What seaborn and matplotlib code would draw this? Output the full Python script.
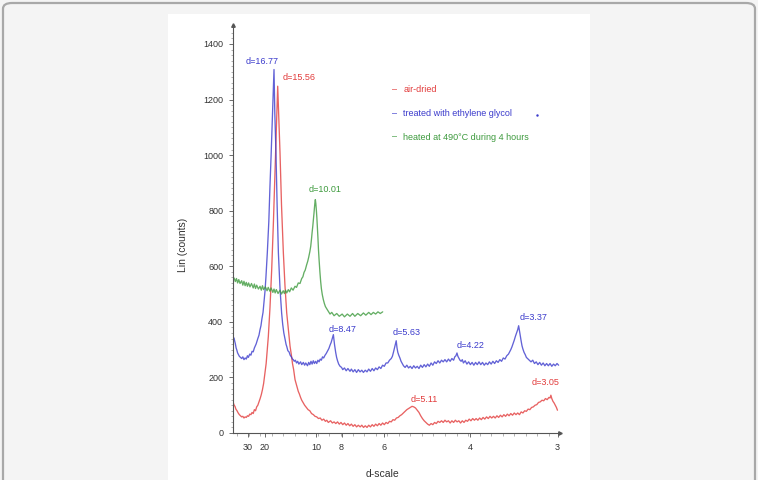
import numpy as np
import pandas as pd
import matplotlib
matplotlib.use("Agg")
import matplotlib.pyplot as plt
from matplotlib.patches import Rectangle, FancyBboxPatch
import seaborn as sns

# ---------------- data (2-theta in degrees, Cu K-alpha; counts) ----------------
air_2theta = [1.68,1.75,1.82,1.9,2.0,2.1,2.2,2.3,2.4,2.5,
              2.6,2.7,2.8,2.9,3.0,3.1,3.2,3.3,3.4,3.5,
              3.6,3.7,3.8,3.9,4.0,4.1,4.2,4.3,4.42,4.52,
              4.6,4.71,4.85,5.00,5.15,5.29,5.40,5.52,5.60,5.72,
              5.85,6.01,6.15,6.30,6.45,6.59,6.7,6.8,6.9,7.02,
              7.15,7.3,7.4,7.5,7.6,7.74,7.85,8.0,8.15,8.3,
              8.45,8.61,8.75,8.9,9.05,9.2,9.35,9.5,9.65,9.77,
              9.9,10.1,10.25,10.4,10.55,10.7,10.85,11.0,11.15,11.3,
              11.45,11.6,11.75,11.9,12.05,12.2,12.35,12.5,12.66,12.8,
              12.95,13.1,13.25,13.4,13.55,13.7,13.85,14.0,14.15,14.3,
              14.45,14.6,14.75,14.9,15.05,15.2,15.35,15.5,15.65,15.8,
              15.95,16.1,16.25,16.4,16.55,16.7,16.85,17.0,17.15,17.3,
              17.45,17.6,17.75,17.9,18.05,18.2,18.35,18.5,18.65,18.8,
              18.95,19.1,19.25,19.4,19.55,19.7,19.85,20.0,20.15,20.3,
              20.45,20.6,20.75,20.9,21.05,21.2,21.35,21.5,21.65,21.8,
              21.95,22.1,22.25,22.4,22.55,22.7,22.85,23.0,23.15,23.3,
              23.45,23.6,23.75,23.9,24.05,24.2,24.35,24.5,24.65,24.8,
              24.95,25.1,25.25,25.4,25.55,25.7,25.85,26.0,26.15,26.3,
              26.45,26.6,26.75,26.9,27.05,27.2,27.35,27.5,27.65,27.8,
              27.95,28.1,28.25,28.4,28.55,28.7,28.85,29.0,29.1,29.17,
              29.25,29.35,29.45,29.55,29.65,29.74]
air_counts = [108,100,96,86,80,72,66,62,58,60,
              54,58,56,62,60,68,66,74,70,84,
              80,94,100,112,124,138,156,178,216,250,
              290,348,450,588,760,948,1100,1248,1150,1008,
              820,648,530,432,370,312,282,250,228,192,
              172,150,140,128,118,108,100,92,84,80,
              70,66,60,58,52,54,46,50,42,46,
              38,44,36,40,34,40,32,38,30,36,
              28,34,26,32,24,30,22,28,22,28,
              20,26,20,28,22,30,24,32,26,34,
              28,36,30,38,34,42,40,48,46,54,
              56,62,66,72,78,84,88,92,96,94,
              90,82,74,62,52,44,38,32,28,34,
              30,38,34,42,38,44,38,46,40,44,
              36,44,38,46,40,44,36,44,38,46,
              42,50,44,52,46,52,46,54,48,56,
              50,58,52,60,54,60,54,62,56,64,
              58,66,60,68,62,70,64,72,66,72,
              66,76,72,80,78,86,84,92,94,100,
              102,110,112,118,116,124,120,128,126,136,
              124,114,108,100,92,82]

glycol_2theta = [1.74,1.8,1.85,1.92,1.97,2.05,2.12,2.2,2.3,2.4,
                 2.5,2.6,2.7,2.8,2.9,2.98,3.1,3.2,3.3,3.4,
                 3.5,3.56,3.65,3.75,3.8,3.9,3.99,4.07,4.15,4.25,
                 4.33,4.42,4.5,4.62,4.75,4.85,4.95,5.05,5.13,5.2,
                 5.27,5.37,5.47,5.58,5.65,5.72,5.8,5.86,5.95,6.05,
                 6.15,6.25,6.3,6.4,6.5,6.6,6.7,6.8,6.87,6.95,
                 7.05,7.15,7.25,7.35,7.5,7.6,7.74,7.85,7.95,8.1,
                 8.2,8.3,8.4,8.5,8.6,8.7,8.8,8.9,9.0,9.1,
                 9.2,9.3,9.4,9.5,9.62,9.72,9.85,9.95,10.05,10.15,
                 10.25,10.34,10.44,10.54,10.62,10.7,10.8,10.92,11.05,11.15,
                 11.3,11.45,11.6,11.78,11.9,12.05,12.2,12.35,12.5,12.65,
                 12.8,12.94,13.1,13.25,13.4,13.55,13.7,13.85,14.0,14.15,
                 14.3,14.45,14.6,14.75,14.9,15.05,15.2,15.35,15.45,15.55,
                 15.65,15.72,15.78,15.85,15.92,16.0,16.1,16.2,16.3,16.41,
                 16.55,16.7,16.85,17.0,17.15,17.3,17.45,17.6,17.75,17.9,
                 18.05,18.2,18.35,18.5,18.65,18.8,18.95,19.1,19.25,19.4,
                 19.55,19.7,19.85,20.0,20.15,20.3,20.45,20.6,20.75,20.85,
                 20.95,21.04,21.12,21.2,21.3,21.4,21.5,21.6,21.75,21.9,
                 22.05,22.2,22.35,22.5,22.65,22.8,22.95,23.1,23.25,23.4,
                 23.55,23.7,23.85,24.0,24.15,24.3,24.45,24.6,24.75,24.9,
                 25.05,25.2,25.35,25.5,25.6,25.7,25.8,25.9,26.0,26.1,
                 26.2,26.3,26.38,26.45,26.52,26.6,26.67,26.75,26.85,26.95,
                 27.05,27.15,27.3,27.45,27.6,27.75,27.9,28.05,28.2,28.35,
                 28.5,28.65,28.8,28.95,29.1,29.25,29.4,29.55,29.7,29.84]
glycol_counts = [342,330,322,306,300,288,282,276,272,268,
                 274,264,270,266,278,272,284,280,294,292,
                 306,312,320,334,340,352,372,386,410,434,
                 468,510,560,648,760,888,1000,1128,1230,1308,
                 1150,1008,820,648,580,520,470,432,392,360,
                 338,318,312,296,292,280,274,266,264,258,
                 262,252,258,248,256,246,254,244,252,242,
                 254,246,258,248,260,250,258,250,262,256,
                 266,262,274,270,280,286,296,304,316,326,
                 340,354,318,290,272,260,248,240,236,228,
                 234,224,232,222,230,220,228,218,228,220,
                 226,218,226,220,230,222,232,224,234,228,
                 238,232,244,240,252,252,262,268,276,292,
                 310,322,332,306,290,280,270,258,250,242,
                 236,244,234,240,232,242,234,240,232,244,
                 236,246,238,248,240,252,244,256,250,260,
                 252,262,256,264,256,266,258,268,262,274,
                 278,288,276,270,262,258,264,252,260,248,
                 256,246,254,244,254,246,256,246,254,244,
                 252,246,256,248,258,250,260,254,264,258,
                 270,266,278,284,292,300,310,322,334,348,
                 360,372,386,368,350,330,314,302,290,282,
                 272,268,262,256,262,250,256,246,254,244,
                 252,242,250,242,250,240,248,242,250,244]

heated_2theta = [1.74,1.85,1.95,2.05,2.15,2.26,2.4,2.5,2.6,2.7,
                 2.8,2.9,3.0,3.12,3.25,3.4,3.5,3.6,3.7,3.85,
                 3.99,4.1,4.2,4.3,4.45,4.6,4.7,4.85,4.95,5.1,
                 5.2,5.3,5.4,5.55,5.72,5.85,6.0,6.1,6.2,6.3,
                 6.44,6.55,6.7,6.85,7.02,7.15,7.3,7.45,7.6,7.7,
                 7.8,7.9,8.03,8.12,8.2,8.3,8.38,8.45,8.5,8.56,
                 8.61,8.66,8.7,8.74,8.78,8.82,8.87,8.91,8.95,9.0,
                 9.05,9.1,9.18,9.24,9.3,9.38,9.47,9.56,9.65,9.78,
                 9.9,10.05,10.2,10.4,10.63,10.85,11.1,11.3,11.55,11.78,
                 12.0,12.2,12.45,12.7,12.94,13.15,13.4,13.6,13.8,14.0,
                 14.2,14.4,14.61]
heated_counts = [558,545,556,540,552,538,548,532,546,530,
                 542,528,540,526,538,522,536,520,532,518,
                 528,514,530,516,526,512,524,510,522,506,
                 518,504,516,502,514,500,512,502,514,504,
                 516,508,522,514,528,524,540,538,556,562,
                 578,586,606,618,632,652,672,700,722,745,
                 768,790,810,828,840,826,800,775,744,705,
                 660,625,576,545,520,498,480,466,455,446,
                 438,428,434,422,430,420,428,418,428,420,
                 430,420,430,422,432,424,434,426,434,428,
                 436,430,436]

series_names = ["air-dried", "treated with ethylene glycol", "heated at 490°C during 4 hours"]
series_colors = ["#e23b3b", "#3b3bcc", "#3d9a3d"]

tick_d = [30, 20, 10, 8, 6, 4, 3]
tick_labels = ["30", "20", "10", "8", "6", "4", "3"]

peak_labels = ["d=16.77", "d=15.56", "d=10.01", "d=8.47", "d=5.63", "d=4.22", "d=3.37", "d=5.11", "d=3.05"]
peak_series = [1, 0, 2, 1, 1, 1, 1, 0, 0]
peak_label_x = [4.13, 7.36, 9.62, 11.15, 16.69, 22.25, 27.65, 18.19, 28.75]
peak_label_y = [1338, 1281, 876, 372, 360, 316, 414, 120, 180]

# ---------------- build table ----------------
frames = []
for name, xs, ys in zip(series_names,
                        [air_2theta, glycol_2theta, heated_2theta],
                        [air_counts, glycol_counts, heated_counts]):
    assert len(xs) == len(ys), (name, len(xs), len(ys))
    frames.append(pd.DataFrame({"two_theta": xs, "counts": ys, "sample": name}))
df = pd.concat(frames, ignore_index=True)

# ---------------- figure ----------------
sns.set_theme(style="ticks")
plt.rcParams["font.family"] = ["Liberation Sans", "DejaVu Sans"]

W, H = 758, 480
fig = plt.figure(figsize=(W / 100, H / 100), dpi=100)
fig.patch.set_facecolor("#f4f4f4")

# rounded outer frame and white image panel (behind the axes)
fig.patches.append(FancyBboxPatch((3 / W, -0.08), (W - 6) / W, 1.08 - 3 / H,
                                  boxstyle="round,pad=0,rounding_size=0.012",
                                  transform=fig.transFigure, facecolor="#f4f4f4",
                                  edgecolor="#a8a8a8", linewidth=1.6, zorder=-2))
fig.patches.append(Rectangle((168 / W, 0), (590 - 168) / W, (H - 14) / H,
                             transform=fig.transFigure, facecolor="white",
                             edgecolor="none", zorder=-1))

ax = fig.add_axes([233 / W, (H - 433) / H, (560 - 233) / W, (433 - 24.5) / H])
ax.set_zorder(2)
ax.set_facecolor("none")

sns.lineplot(data=df, x="two_theta", y="counts", hue="sample", hue_order=series_names,
             palette=series_colors, sort=False, estimator=None, linewidth=0.95,
             alpha=0.8, legend=False, ax=ax)

ax.set_xlim(1.65, 29.96)
ax.set_ylim(0, 1470)

lam = 1.5406
tick_pos = [2 * np.degrees(np.arcsin(lam / (2 * d))) for d in tick_d]
ax.set_xticks(tick_pos)
ax.set_xticklabels(tick_labels)
ax.set_xticks(np.arange(2, 30, 1.0), minor=True)
ax.set_yticks(np.arange(0, 1401, 200))
ax.set_yticks(np.arange(0, 1461, 20), minor=True)

for side in ["top", "right"]:
    ax.spines[side].set_visible(False)
for side in ["left", "bottom"]:
    ax.spines[side].set_color("#555555")
    ax.spines[side].set_linewidth(0.8)

ax.tick_params(axis="both", which="major", labelsize=6.5, colors="#555555",
               labelcolor="#333333", length=3, width=0.6, direction="out", pad=4)
ax.tick_params(axis="both", which="minor", colors="#777777", length=1.8, width=0.4)

ax.plot(1, 0, marker=">", color="#555555", markersize=2.5, transform=ax.transAxes, clip_on=False)
ax.plot(0, 1, marker="^", color="#555555", markersize=2.5, transform=ax.transAxes, clip_on=False)

ax.set_xlabel("d-scale", fontsize=7.5, color="#333333")
ax.set_ylabel("Lin (counts)", fontsize=7.5, color="#333333")
ax.xaxis.set_label_coords((383 - 233) / 327, (433 - 474) / 408.5)
ax.yaxis.set_label_coords((183 - 233) / 327, (433 - 245) / 408.5)
ax.xaxis.label.set_va("center")
ax.yaxis.label.set_va("center")

# peak annotations
for lab, s, x, y in zip(peak_labels, peak_series, peak_label_x, peak_label_y):
    ax.text(x, y, lab, color=series_colors[s], fontsize=6.5, ha="center", va="center")

# legend entries drawn as text
legend_y = [1236, 1149, 1065]
for name, col, y in zip(series_names, series_colors, legend_y):
    ax.text(15.67, y, "–", color=col, fontsize=6.5, ha="center", va="center")
    ax.text(16.39, y, name, color=col, fontsize=6.5, ha="left", va="center")
ax.plot([27.94], [1143], marker=".", color=series_colors[1], markersize=1.5)

fig.savefig("out.png", dpi=100, facecolor=fig.get_facecolor())
